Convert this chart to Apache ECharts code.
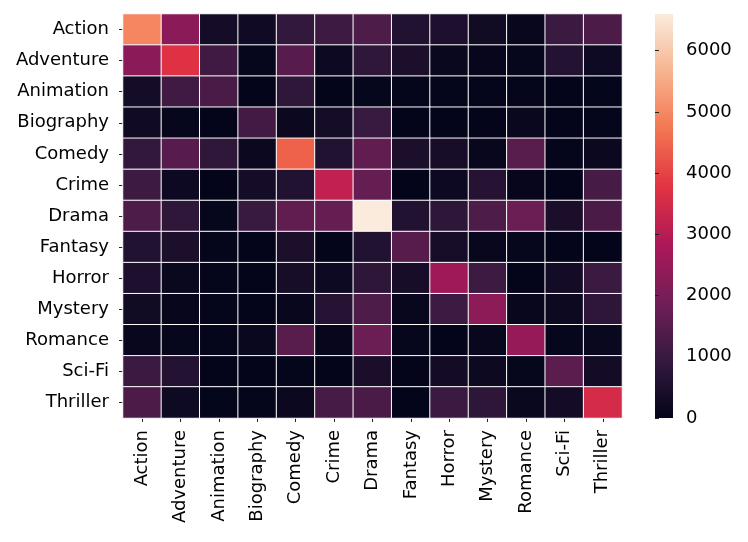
<!DOCTYPE html>
<html>
<head>
<meta charset="utf-8">
<script src="https://cdn.jsdelivr.net/npm/echarts@6/dist/echarts.min.js"></script>
<style>
html,body{margin:0;padding:0;background:#fff;}
#chart{width:748px;height:542px;}
</style>
</head>
<body>
<div id="chart"></div>
<script>
const genres = ['Action','Adventure','Animation','Biography','Comedy','Crime','Drama','Fantasy','Horror','Mystery','Romance','Sci-Fi','Thriller'];
const rowAction    = [4950,2310,340,250,910,1050,1340,590,490,270,110,1030,1310];
const rowAdventure = [2310,3720,1140,55,1490,210,830,475,120,70,50,610,230];
const rowAnimation = [340,1140,1290,15,830,10,55,30,35,30,35,20,25];
const rowBiography = [250,55,15,1160,150,340,990,15,15,20,130,20,40];
const rowComedy    = [910,1490,830,150,4430,590,1640,475,370,110,1520,45,160];
const rowCrime     = [1050,210,10,340,590,3170,1690,15,200,660,70,15,1220];
const rowDrama     = [1340,830,55,990,1640,1690,6600,590,815,1350,1790,440,1300];
const rowFantasy   = [590,475,30,15,475,15,590,1480,380,100,60,15,20];
const rowHorror    = [490,120,35,15,370,200,815,380,2610,1060,10,320,1040];
const rowMystery   = [270,70,30,20,110,660,1350,100,1060,2330,100,190,820];
const rowRomance   = [110,50,35,130,1520,70,1790,60,10,100,2470,50,130];
const rowSciFi     = [1030,610,20,20,45,15,440,15,320,190,50,1545,320];
const rowThriller  = [1310,230,25,40,160,1220,1300,20,1040,820,130,320,3510];
const matrix = [rowAction,rowAdventure,rowAnimation,rowBiography,rowComedy,rowCrime,rowDrama,rowFantasy,rowHorror,rowMystery,rowRomance,rowSciFi,rowThriller];
const colorbarTicks = [0,1000,2000,3000,4000,5000,6000];
const vmin = 0, vmax = 6600;
const rocket = ['#03051a','#35193e','#701f57','#ad1759','#e13342','#f37651','#f6b48f','#faebdd'];

const data = [];
matrix.forEach((row, i) => row.forEach((v, j) => data.push([j, i, v])));

const font = 'DejaVu Sans';
const FS = 18;
const chart = echarts.init(document.getElementById('chart'), null, {renderer:'canvas'});
const stops = rocket.map((c, i) => ({offset: i / (rocket.length - 1), color: c}));
chart.setOption({
  animation: false,
  backgroundColor: '#fff',
  textStyle: {fontFamily: font},
  grid: [
    {left: 123, top: 14, width: 499, height: 404},
    {left: 655, top: 14, width: 18, height: 404}
  ],
  graphic: [
    {type:'rect', left:655, top:14, z:0, silent:true,
     shape:{width:18, height:404},
     style:{fill: new echarts.graphic.LinearGradient(0, 1, 0, 0, stops)}}
  ],
  xAxis: [
    {type:'category', data: genres, gridIndex:0,
     axisLine:{show:false}, splitLine:{show:false},
     axisTick:{show:true, alignWithLabel:true, length:4, lineStyle:{color:'#222', width:1}},
     axisLabel:{rotate:90, margin:12, fontSize:FS, color:'#000', fontFamily:font, interval:0}},
    {type:'value', gridIndex:1, show:false, min:0, max:1}
  ],
  yAxis: [
    {type:'category', data: genres, inverse:true, gridIndex:0,
     axisLine:{show:false}, splitLine:{show:false},
     axisTick:{show:true, alignWithLabel:true, length:4, lineStyle:{color:'#222', width:1}},
     axisLabel:{margin:14, fontSize:FS, color:'#000', fontFamily:font, interval:0}},
    {type:'value', gridIndex:1, position:'right', min:vmin, max:vmax,
     axisLine:{show:false}, splitLine:{show:false},
     axisTick:{show:true, length:4, customValues: colorbarTicks, lineStyle:{color:'#222', width:1}},
     axisLabel:{margin:13, fontSize:FS, color:'#000', fontFamily:font, customValues: colorbarTicks,
                formatter: v => String(v)}}
  ],
  visualMap: {
    type:'continuous', min:vmin, max:vmax, seriesIndex:0, show:false,
    inRange:{color: rocket}
  },
  series: [
    {type:'heatmap', xAxisIndex:0, yAxisIndex:0, data: data,
     itemStyle:{borderColor:'#ffffff', borderWidth:1}, emphasis:{disabled:true}},
    {type:'line', xAxisIndex:1, yAxisIndex:1, data: [], silent:true}
  ]
});
</script>
</body>
</html>
